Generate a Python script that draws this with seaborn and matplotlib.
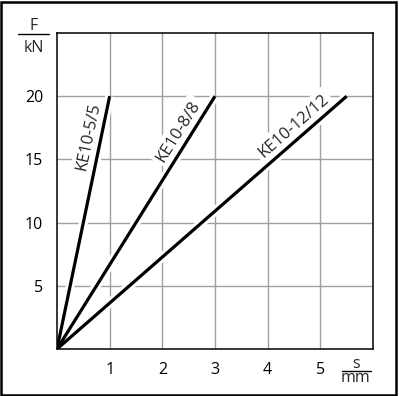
import numpy as np
import pandas as pd
import matplotlib
matplotlib.use("Agg")
import matplotlib.pyplot as plt
import seaborn as sns
from matplotlib.patches import Rectangle
from matplotlib.lines import Line2D

# ---- data ----
labels = ["KE10-5/5", "KE10-8/8", "KE10-12/12"]
s_start = [0.0, 0.0, 0.0]
s_end = [1.0, 3.0, 5.5]
F_start = [0.0, 0.0, 0.0]
F_end = [20.0, 20.0, 20.0]
label_F = [16.6, 16.7, 16.9]
xticks = [1, 2, 3, 4, 5]
yticks = [5, 10, 15, 20]

rows = []
for name, s0, s1, f0, f1 in zip(labels, s_start, s_end, F_start, F_end):
    rows.append({"series": name, "s": s0, "F": f0})
    rows.append({"series": name, "s": s1, "F": f1})
df = pd.DataFrame(rows)

sns.set_style("white")
plt.rcParams["font.family"] = ["Open Sans", "DejaVu Sans"]

W, H = 399, 396
fig = plt.figure(figsize=(W / 100, H / 100), dpi=100)
ax = fig.add_axes([57 / W, 47 / H, 316 / W, 316 / H])
ax.set_xlim(0, 6)
ax.set_ylim(0, 25)
ax.set_xticks(xticks)
ax.set_yticks(yticks)
ax.set_axisbelow(True)
ax.grid(True, color="#a0a0a0", lw=1.0, zorder=0.5)

# white halo under the lines, then the black lines
sns.lineplot(data=df, x="s", y="F", hue="series", palette=["white"] * 3,
             lw=6.5, legend=False, ax=ax, sort=False, estimator=None,
             solid_capstyle="butt", zorder=1.8)
sns.lineplot(data=df, x="s", y="F", hue="series", palette=["black"] * 3,
             lw=2.3, legend=False, ax=ax, sort=False, estimator=None,
             solid_capstyle="butt", zorder=2)

ax.set_xlabel("")
ax.set_ylabel("")
for sp in ax.spines.values():
    sp.set_visible(True)
    sp.set_color("black")
    sp.set_linewidth(1.1)
ax.tick_params(length=0, labelsize=11.5, colors="black")
ax.tick_params(axis="y", pad=10)
ax.tick_params(axis="x", pad=9)

# line labels
for name, s1, f1, lf in zip(labels, s_end, F_end, label_F):
    p0 = ax.transData.transform((0, 0))
    p1 = ax.transData.transform((s1, f1))
    ang = np.arctan2(p1[1] - p0[1], p1[0] - p0[0])
    d = 12.7
    off = (-np.sin(ang) * d, np.cos(ang) * d)
    ax.annotate(name, xy=(s1 * lf / f1, lf), xytext=off, textcoords="offset pixels",
                rotation=np.degrees(ang), rotation_mode="anchor",
                ha="center", va="center", fontsize=12, zorder=1.5,
                bbox=dict(boxstyle="square,pad=0.2", fc="white", ec="none"))

# unit fractions
def frac(xc, top, bottom, y_line, x0, x1):
    fig.text(xc / W, 1 - top[1] / H, top[0], ha="center", va="baseline", fontsize=11.5)
    fig.text(xc / W, 1 - bottom[1] / H, bottom[0], ha="center", va="baseline", fontsize=11.5)
    fig.add_artist(Line2D([x0 / W, x1 / W], [1 - y_line / H, 1 - y_line / H],
                          transform=fig.transFigure, color="black", lw=1.0))

frac(33.5, ("F", 29.5), ("kN", 52), 34, 18, 49)
frac(356, ("s", 367.5), ("mm", 382.5), 371, 342, 371)

# outer border
fig.add_artist(Rectangle((1 / W, 1 / H), 394.5 / W, 393.5 / H, transform=fig.transFigure,
                         fill=False, ec="black", lw=1.8))

fig.savefig("out.png", dpi=100)
